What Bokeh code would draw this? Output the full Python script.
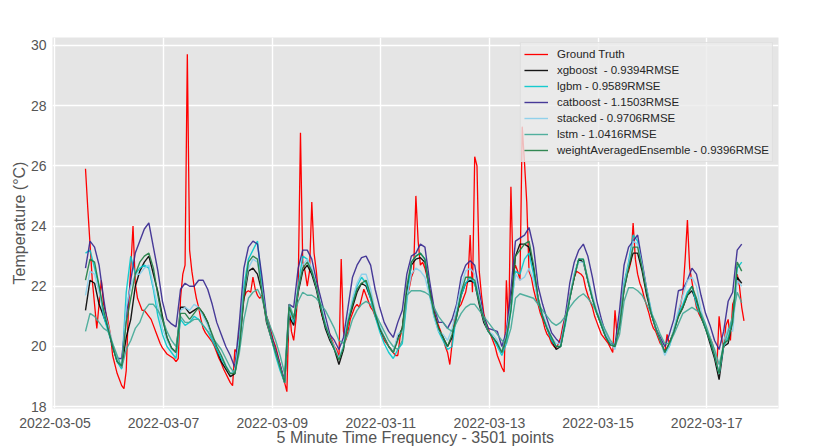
import pandas as pd
from bokeh.plotting import figure
from bokeh.models import Range1d, FixedTicker, DatetimeTickFormatter
from bokeh.embed import file_html
from bokeh.resources import INLINE

start_time = "2022-03-05 13:30"
n_points = 3501
freq_minutes = 5

# Ground truth, hourly readings
ground_truth = [
    25.9, 24.6, 23.4, 22.2, 21.4, 20.6, 21.4, 22.2, 21.4, 21.1,
    20.8, 20.4, 19.7, 19.4, 19.1, 18.9, 18.7, 18.6, 19.2, 21.3,
    22.6, 24.0, 22.1, 21.6, 21.4, 21.2, 21.2, 21.1, 21.0, 20.9,
    20.7, 20.5, 20.3, 20.1, 19.95, 19.85, 19.75, 19.7, 19.65, 19.6,
    19.5, 19.6, 21.6, 22.4, 22.7, 29.7, 23.2, 22.5, 22.0, 21.6,
    21.3, 20.9, 20.6, 20.45, 20.35, 20.25, 20.15, 20.0, 19.8, 19.6,
    19.45, 19.25, 19.1, 18.95, 18.8, 18.7, 19.9, 19.8, 20.5, 21.1,
    21.6, 21.8, 21.85, 21.8, 22.3, 21.9, 21.7, 21.6, 21.7, 21.3,
    21.0, 20.8, 20.5, 20.2, 20.0, 19.7, 19.4, 19.1, 18.8, 18.5,
    21.4, 20.5, 20.2, 20.9, 22.0, 27.1, 22.8, 22.5, 22.0, 22.5,
    24.8, 23.1, 22.5, 21.7, 21.2, 20.9, 20.75, 20.6, 20.4, 20.2,
    20.0, 19.9, 19.6, 22.9, 20.5, 20.2, 20.5, 20.9, 21.1, 21.3,
    21.4, 21.3, 21.6, 21.9, 21.7, 21.5, 21.3, 21.2, 21.0, 20.8,
    20.6, 20.4, 20.2, 20.1, 20.0, 19.9, 19.8, 19.7, 19.7, 20.3,
    20.6, 21.2, 21.7, 21.9, 22.3, 22.5, 25.0, 23.5, 22.7, 22.8,
    22.6, 22.3, 21.9, 21.6, 21.2, 20.9, 20.7, 20.5, 20.3, 20.0,
    19.8, 19.4, 20.1, 20.9, 21.1, 21.3, 21.4, 21.6, 21.8, 22.2,
    23.7, 21.8, 26.3, 26.0, 22.5, 21.7, 21.1, 20.8, 20.6, 20.4,
    20.2, 20.0, 19.7, 19.5, 19.3, 19.15, 22.2, 20.6, 25.3, 22.4,
    22.7, 22.5, 22.2, 27.3, 26.1, 24.8, 22.5, 22.3, 21.9, 21.6,
    21.4, 21.1, 20.9, 20.6, 20.4, 20.3, 20.1, 20.0, 19.95, 20.1,
    20.3, 20.7, 21.0, 21.3, 21.7, 22.0, 22.3, 22.5, 22.45, 22.4,
    22.3, 21.95, 21.7, 21.5, 21.3, 21.0, 20.8, 20.6, 20.4, 20.3,
    20.2, 20.1, 19.95, 19.8, 21.2, 20.3, 20.8, 21.5, 22.0, 22.4,
    22.5, 22.8, 24.1, 22.9, 22.4, 22.1, 21.9, 21.6, 21.35, 21.1,
    20.8, 20.6, 20.5, 20.3, 20.1, 20.0, 19.8, 20.4, 20.1, 20.3,
    20.5, 20.8, 21.1, 21.4, 21.8, 22.9, 24.2, 22.6, 22.15, 21.7,
    21.3, 21.1, 20.95, 20.8, 20.65, 20.45, 20.3, 20.1, 19.8, 19.3,
    21.0, 20.3, 19.95, 20.7, 20.9, 20.2, 21.4, 21.6, 22.4, 22.0,
    21.3, 20.85,
]

# Model predictions, 2-hourly readings
xgboost = [
    21.2, 22.2, 22.1, 21.4, 21.0, 20.6, 20.0, 19.5, 19.3, 20.3,
    20.9, 22.0, 22.5, 22.8, 23.0, 22.4, 21.8, 21.0, 20.3, 19.95,
    19.8, 21.3, 21.3, 21.1, 21.2, 21.3, 21.1, 20.8, 20.3, 19.9,
    19.5, 19.25, 19.0, 19.1, 20.0, 21.6, 22.5, 22.6, 22.4, 21.8,
    20.8, 20.3, 19.8, 19.3, 18.8, 21.0, 20.7, 21.8, 22.5, 22.7,
    22.4, 21.9, 21.2, 20.6, 20.2, 19.9, 19.4, 19.9, 20.8, 21.3,
    21.8, 22.1, 22.0, 21.6, 21.1, 20.6, 20.3, 20.0, 19.8, 20.3,
    20.6, 21.8, 22.7, 22.9, 22.95, 22.8, 21.9, 21.1, 20.6, 20.3,
    20.0, 20.3, 21.0, 21.7, 22.1, 22.2, 22.1, 21.4, 20.8, 20.5,
    20.3, 20.1, 19.8, 20.4, 21.5, 23.0, 23.4, 23.4, 23.3, 22.6,
    21.6, 21.0, 20.6, 20.2, 19.9, 20.0, 20.8, 21.6, 22.3, 22.9,
    22.8, 22.2, 21.6, 21.1, 20.7, 20.3, 20.05, 20.0, 20.7, 21.9,
    22.6, 23.1, 23.1, 22.5, 21.7, 21.1, 20.6, 20.2, 19.8, 20.1,
    20.5, 21.0, 21.3, 21.7, 21.85, 21.5, 21.0, 20.6, 20.1, 19.6,
    18.9, 20.0, 20.1, 20.9, 22.3, 22.1,
]
lgbm = [
    23.1, 23.2, 22.6, 22.0, 21.0, 20.5, 20.0, 19.5, 19.25, 21.8,
    23.0, 22.4, 22.6, 22.7, 22.6, 21.9, 21.0, 20.4, 20.0, 19.8,
    19.6, 20.9, 20.7, 20.8, 21.0, 20.9, 20.7, 20.5, 20.2, 19.9,
    19.6, 19.35, 19.1, 19.2, 20.3, 22.0, 22.9, 23.2, 23.5, 22.0,
    20.9, 20.3, 19.7, 19.2, 18.8, 21.2, 20.8, 22.0, 23.0, 22.9,
    22.5, 22.0, 21.3, 20.7, 20.3, 19.9, 19.6, 20.0, 20.9, 21.5,
    22.0, 22.3, 22.1, 21.6, 21.0, 20.5, 20.1, 19.8, 19.6, 19.9,
    20.1, 21.5, 22.8, 23.0, 23.1, 22.9, 21.8, 21.0, 20.5, 20.2,
    19.9, 20.0, 21.1, 21.7, 22.1, 22.3, 22.1, 21.5, 20.9, 20.5,
    20.3, 20.0, 19.7, 20.1, 21.2, 22.5, 22.4, 22.9, 23.1, 22.4,
    21.5, 21.0, 20.6, 20.2, 20.0, 20.0, 20.7, 21.6, 22.4, 22.9,
    22.9, 22.2, 21.6, 21.1, 20.7, 20.3, 20.1, 20.0, 20.8, 22.1,
    22.8, 23.7, 23.5, 22.7, 21.9, 21.2, 20.6, 20.2, 19.8, 20.0,
    20.5, 21.1, 21.4, 21.8, 22.0, 21.4, 21.0, 20.6, 20.2, 19.7,
    19.1, 20.0, 20.3, 20.9, 22.6, 22.8,
]
catboost = [
    22.6, 23.5, 23.3, 22.7, 21.6, 20.6, 20.0, 19.6, 19.6, 21.0,
    22.2, 23.1, 23.5, 23.9, 24.1, 23.3, 22.5, 21.5, 20.9, 20.75,
    20.65, 21.9, 22.1, 22.0, 22.0, 22.2, 22.2, 21.9, 21.4, 20.8,
    20.4, 20.0, 19.7, 19.3, 20.8, 22.6, 23.3, 23.5, 23.4, 22.3,
    21.0, 20.4, 19.9, 19.4, 18.85, 21.4, 21.3, 22.6, 23.2, 23.2,
    22.9, 22.2, 21.6, 21.0, 20.4, 20.2, 19.9, 20.3, 21.3, 22.3,
    22.7, 22.95, 23.0, 22.7, 21.9, 21.3, 20.8, 20.5, 20.3, 20.8,
    21.2, 22.4, 23.0, 23.1, 23.4, 23.3, 22.2, 21.3, 20.8, 20.8,
    20.6, 20.9, 21.4, 22.3, 22.7, 22.85, 22.7, 21.85, 21.0, 20.6,
    20.55, 20.5, 20.0, 20.5, 21.9, 23.5, 23.6, 23.7, 23.95, 23.3,
    22.0, 21.4, 20.9, 20.45, 20.25, 20.1, 21.0, 22.1, 22.8, 23.2,
    23.4, 23.0, 22.3, 21.5, 20.9, 20.4, 20.1, 20.05, 21.2, 22.7,
    23.3, 23.5, 23.7, 22.8, 21.9, 21.1, 20.6, 20.3, 20.0, 20.4,
    20.9, 21.85, 21.9, 22.2, 22.6, 22.4, 21.7, 21.1, 20.7, 20.2,
    19.9, 20.5, 21.5, 21.8, 23.2, 23.4,
]
stacked = [
    21.7, 22.5, 22.4, 21.8, 21.2, 20.7, 20.1, 19.6, 19.3, 21.3,
    22.0, 22.4, 22.4, 22.6, 22.7, 22.0, 21.3, 20.6, 20.2, 19.9,
    19.8, 21.2, 21.3, 21.2, 21.4, 21.3, 21.0, 20.7, 20.3, 20.0,
    19.7, 19.4, 19.1, 19.2, 20.2, 21.8, 22.6, 22.9, 22.8, 21.9,
    20.9, 20.3, 19.8, 19.3, 18.8, 21.2, 20.9, 21.9, 22.7, 22.9,
    22.6, 22.0, 21.4, 20.8, 20.3, 20.0, 19.6, 20.0, 20.9, 21.6,
    22.1, 22.4, 22.4, 21.9, 21.2, 20.7, 20.3, 20.0, 19.8, 20.4,
    20.5, 21.6, 22.4, 22.6, 22.5, 22.3, 21.7, 21.0, 20.5, 20.4,
    20.2, 20.6, 21.3, 22.0, 22.5, 22.6, 22.4, 21.6, 20.9, 20.5,
    20.4, 20.2, 19.8, 20.4, 21.4, 22.4, 22.2, 22.3, 22.6, 22.2,
    21.6, 21.1, 20.7, 20.3, 20.1, 20.1, 20.9, 21.7, 22.4, 22.8,
    22.8, 22.3, 21.7, 21.2, 20.8, 20.4, 20.1, 19.9, 20.8, 22.0,
    22.7, 23.5, 23.4, 22.7, 21.9, 21.2, 20.6, 20.2, 19.7, 20.0,
    20.6, 21.2, 21.7, 22.2, 22.3, 22.0, 21.2, 20.7, 20.3, 19.8,
    19.1, 20.2, 20.6, 20.5, 22.2, 22.0,
]
lstm = [
    20.5, 21.1, 21.0, 20.8, 20.6, 20.5, 20.1, 19.7, 19.3, 19.9,
    20.2, 20.6, 20.8, 21.2, 21.4, 21.4, 21.2, 20.9, 20.5, 20.2,
    20.0, 21.0, 20.8, 20.8, 20.9, 20.9, 20.7, 20.5, 20.3, 20.1,
    19.9, 19.6, 19.3, 19.1, 19.8, 20.9, 21.6, 21.8, 21.9, 21.6,
    21.0, 20.6, 20.2, 19.7, 19.1, 21.4, 21.0, 21.5, 21.8, 21.7,
    21.7, 21.6, 21.4, 21.2, 20.9, 20.6, 20.2, 20.1, 20.4, 20.9,
    21.2, 21.4, 21.5, 21.4, 21.1, 20.8, 20.5, 20.2, 20.0, 19.9,
    20.2, 21.7, 21.85, 21.85, 21.85, 21.8, 21.7, 21.3, 21.0, 20.8,
    20.6, 20.5, 20.8, 21.1, 21.3, 21.4, 21.4, 21.2, 21.0, 20.8,
    20.6, 20.4, 20.2, 20.1, 20.6, 21.6, 21.75, 21.7, 21.65, 21.6,
    21.4, 21.2, 21.0, 20.8, 20.7, 20.8, 21.0, 21.3, 21.5, 21.65,
    21.75, 21.6, 21.4, 21.1, 20.8, 20.5, 20.2, 20.0, 20.4, 21.5,
    21.95, 21.95, 21.85, 21.7, 21.4, 21.1, 20.8, 20.4, 20.1, 20.1,
    20.4, 20.75, 21.1, 21.2, 21.3, 21.2, 21.1, 20.75, 20.3, 19.9,
    19.4, 20.0, 20.5, 21.0, 21.8, 21.45,
]
weight_averaged = [
    22.2, 22.9, 22.8, 22.0, 21.2, 20.6, 20.0, 19.5, 19.35, 20.8,
    21.6, 22.4, 22.8, 23.0, 23.1, 22.6, 21.7, 20.9, 20.3, 19.95,
    19.8, 21.1, 21.1, 20.9, 21.1, 21.3, 21.1, 20.8, 20.4, 20.0,
    19.7, 19.35, 19.1, 19.1, 20.0, 21.7, 22.8, 23.0, 22.9, 21.8,
    20.9, 20.3, 19.8, 19.3, 18.8, 21.3, 20.9, 21.9, 22.6, 22.8,
    22.5, 22.0, 21.3, 20.7, 20.3, 19.9, 19.55, 19.95, 20.8, 21.4,
    21.9, 22.1, 22.2, 21.7, 21.1, 20.6, 20.3, 20.0, 19.8, 20.2,
    20.6, 22.0, 22.8, 23.0, 23.1, 22.9, 21.9, 21.1, 20.6, 20.3,
    20.0, 20.4, 21.0, 21.8, 22.3, 22.3, 22.2, 21.5, 20.9, 20.5,
    20.3, 20.1, 19.8, 20.3, 21.2, 23.0, 23.2, 23.4, 23.5, 22.7,
    21.6, 21.0, 20.6, 20.3, 20.0, 20.0, 20.8, 21.6, 22.3, 22.9,
    22.9, 22.2, 21.6, 21.1, 20.7, 20.3, 20.05, 20.0, 20.7, 21.9,
    22.6, 23.3, 23.3, 22.6, 21.8, 21.1, 20.6, 20.2, 19.8, 20.1,
    20.5, 21.0, 21.3, 21.7, 22.0, 21.6, 21.0, 20.6, 20.2, 19.7,
    19.1, 20.1, 20.2, 20.8, 22.8, 22.5,
]

series_labels = [
    "Ground Truth",
    "xgboost  - 0.9394RMSE",
    "lgbm - 0.9589RMSE",
    "catboost - 1.1503RMSE",
    "stacked - 0.9706RMSE",
    "lstm - 1.0416RMSE",
    "weightAveragedEnsemble - 0.9396RMSE",
]
series_colors = ["#ff0000", "#000000", "#00c8cc", "#35278f", "#87ceeb", "#40a896", "#1f7d42"]

tick_dates = ["2022-03-05", "2022-03-07", "2022-03-09", "2022-03-11",
              "2022-03-13", "2022-03-15", "2022-03-17"]
y_ticks = [18, 20, 22, 24, 26, 28, 30]
y_label = "Temperature (°C)"
x_label = "5 Minute Time Frequency - 3501 points"

t0 = pd.Timestamp(start_time)
t_end = t0 + pd.Timedelta(minutes=freq_minutes * (n_points - 1))
span = t_end - t0
x_start = (t0 - 0.05 * span).value / 1e6
x_end = (t_end + 0.05 * span).value / 1e6

gt_times = pd.date_range(t0, periods=len(ground_truth), freq="1h")

FONT = "Liberation Sans"

p = figure(width=830, height=448, x_axis_type="datetime",
           output_backend="svg", toolbar_location=None,
           x_range=Range1d(x_start, x_end), y_range=Range1d(17.94, 30.26),
           min_border_left=52, min_border_right=52, min_border_top=37,
           min_border_bottom=39,
           background_fill_color="#e5e5e5", border_fill_color="white",
           outline_line_color=None)

model_series = [xgboost, lgbm, catboost, stacked, lstm, weight_averaged]

p.line(gt_times, ground_truth, line_color=series_colors[0], line_width=1.3,
       legend_label=series_labels[0])
for vals, lab, col in zip(model_series, series_labels[1:], series_colors[1:]):
    times = pd.date_range(t0, periods=len(vals), freq="2h")
    p.line(times, vals, line_color=col, line_width=1.4, line_alpha=0.9,
           legend_label=lab)

tick_ms = [pd.Timestamp(d).value / 1e6 for d in tick_dates]
p.xaxis.ticker = FixedTicker(ticks=tick_ms)
fmt = "%Y-%m-%d"
p.xaxis.formatter = DatetimeTickFormatter(days=fmt, months=fmt, hours=fmt,
                                          years=fmt, minutes=fmt)
p.yaxis.ticker = FixedTicker(ticks=y_ticks)

for ax in (p.xaxis, p.yaxis):
    ax.axis_line_color = None
    ax.major_tick_line_color = None
    ax.minor_tick_line_color = None
    ax.major_tick_out = 0
    ax.major_tick_in = 0
    ax.major_label_text_font = FONT
    ax.major_label_text_font_size = "14px"
    ax.major_label_text_color = "#555555"
    ax.axis_label_text_font = FONT
    ax.axis_label_text_font_size = "16px"
    ax.axis_label_text_font_style = "normal"
    ax.axis_label_text_color = "#555555"

p.xaxis.major_label_standoff = 9
p.xaxis.axis_label = x_label
p.xaxis.axis_label_standoff = -2
p.yaxis.major_label_standoff = 6
p.yaxis.axis_label = y_label
p.yaxis.axis_label_standoff = 0

p.grid.grid_line_color = "white"
p.grid.grid_line_width = 1.4

lg = p.legend[0]
lg.location = "top_right"
lg.margin = 5
lg.padding = 3
lg.spacing = 0
lg.label_height = 16
lg.glyph_height = 16
lg.glyph_width = 24
lg.label_standoff = 9
lg.label_text_font = FONT
lg.label_text_font_size = "11.5px"
lg.label_text_color = "#262626"
lg.background_fill_color = "#ebebeb"
lg.background_fill_alpha = 0.8
lg.border_line_color = "#d6d6d6"
lg.border_line_width = 1

open("out.html", "w").write(file_html(p, INLINE))
